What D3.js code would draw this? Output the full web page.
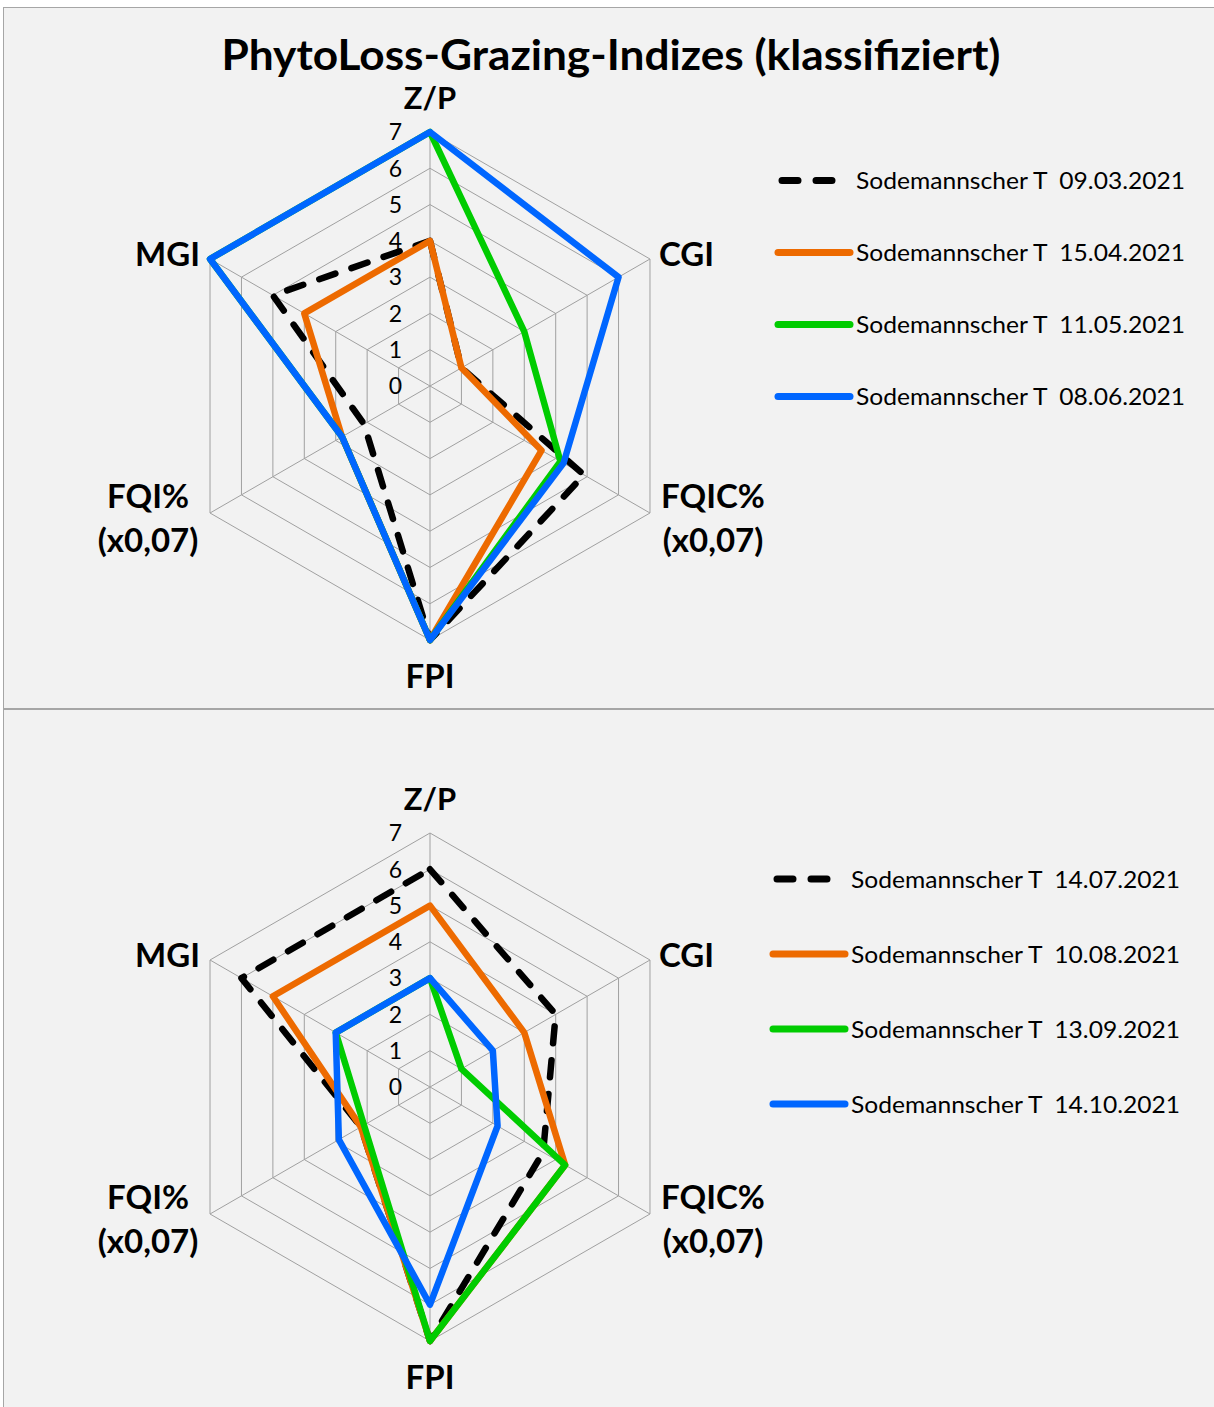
<!DOCTYPE html>
<html>
<head>
<meta charset="utf-8">
<script src="https://cdn.jsdelivr.net/npm/d3@7"></script>
<style>
  html, body { margin: 0; padding: 0; background: #ffffff; }
  svg { display: block; }
  text { font-family: Lato, "Open Sans", "Noto Sans", sans-serif; }
</style>
</head>
<body>
<svg id="chart" width="1214" height="1407"></svg>
<script>
// ---------- data ----------
const title = "PhytoLoss-Grazing-Indizes (klassifiziert)";
const axisLabels = [["Z/P"], ["CGI"], ["FQIC%", "(x0,07)"], ["FPI"], ["FQI%", "(x0,07)"], ["MGI"]];
const tickValues = [0, 1, 2, 3, 4, 5, 6, 7];

const seriesNamesTop = ["Sodemannscher T  09.03.2021", "Sodemannscher T  15.04.2021",
                        "Sodemannscher T  11.05.2021", "Sodemannscher T  08.06.2021"];
const valuesTop1 = [4, 1, 4.9, 7, 2.1, 5];
const valuesTop2 = [4, 1, 3.55, 7, 2.8, 4];
const valuesTop3 = [7, 3, 4.15, 7, 2.8, 7];
const valuesTop4 = [7, 6, 4.25, 7, 2.8, 7];

const seriesNamesBottom = ["Sodemannscher T  14.07.2021", "Sodemannscher T  10.08.2021",
                           "Sodemannscher T  13.09.2021", "Sodemannscher T  14.10.2021"];
const valuesBottom1 = [6, 4, 3.6, 7, 2.2, 6];
const valuesBottom2 = [5, 3, 4.3, 7, 2.2, 5];
const valuesBottom3 = [3, 1, 4.3, 7, 2.1, 3];
const valuesBottom4 = [3, 2, 2.15, 6, 2.9, 3];

// ---------- styles ----------
const colors = ["#000000", "#ED6A00", "#00CC00", "#0066FF"];
const dashes = ["17,17", null, null, null];

const svg = d3.select("#chart");

// panels
svg.append("rect").attr("x", 3.5).attr("y", 7.5).attr("width", 1220).attr("height", 701)
  .attr("fill", "#f2f2f2").attr("stroke", "#a6a6a6").attr("stroke-width", 1);
svg.append("rect").attr("x", 3.5).attr("y", 709.5).attr("width", 1220).attr("height", 710)
  .attr("fill", "#f2f2f2").attr("stroke", "#a6a6a6").attr("stroke-width", 1);

// title
svg.append("text").attr("x", 611).attr("y", 69.5)
  .attr("text-anchor", "middle")
  .attr("font-size", 42).attr("font-weight", 700).attr("fill", "#000")
  .attr("textLength", 779).attr("lengthAdjust", "spacingAndGlyphs")
  .text(title);

const R = 254;
const r = d3.scaleLinear().domain([0, 7]).range([0, R]);
const nAxes = axisLabels.length;
const angle = i => i * 2 * Math.PI / nAxes;

function radar(cx, cy, names, seriesValues, legendX, legendY0, legendStep) {
  const g = svg.append("g").attr("transform", `translate(${cx},${cy})`);

  // rings
  const ringLine = d3.lineRadial().angle((d, i) => angle(i)).radius(d => r(d)).curve(d3.curveLinearClosed);
  tickValues.filter(v => v > 0).forEach(v => {
    g.append("path").attr("d", ringLine(d3.range(nAxes).map(() => v)))
      .attr("fill", "none").attr("stroke", "#a0a0a0").attr("stroke-width", 1);
  });
  // spokes
  d3.range(nAxes).forEach(i => {
    const a = angle(i);
    g.append("line").attr("x1", 0).attr("y1", 0)
      .attr("x2", r(7) * Math.sin(a)).attr("y2", -r(7) * Math.cos(a))
      .attr("stroke", "#a0a0a0").attr("stroke-width", 1);
  });
  // tick labels
  tickValues.forEach(v => {
    g.append("text").attr("x", -28).attr("y", -r(v)).attr("dy", "0.36em")
      .attr("text-anchor", "end").attr("font-size", 23).attr("fill", "#000")
      .text(v);
  });

  // series
  const line = d3.lineRadial().angle((d, i) => angle(i)).radius(d => r(d)).curve(d3.curveLinearClosed);
  seriesValues.forEach((vals, k) => {
    const p = g.append("path").attr("d", line(vals))
      .attr("fill", "none").attr("stroke", colors[k]).attr("stroke-width", 6.5)
      .attr("stroke-linejoin", "round");
    if (dashes[k]) p.attr("stroke-dasharray", dashes[k]).attr("stroke-linecap", "round");
  });

  // axis labels
  const labelPos = [
    {x: 0, y: -277, anchor: "middle", size: 31},
    {x: 229, y: -120, anchor: "start", size: 33},
    {x: 713 - 430, y: 122, anchor: "middle", size: 33},
    {x: 0, y: 302, anchor: "middle", size: 33},
    {x: 148 - 430, y: 122, anchor: "middle", size: 33},
    {x: -230, y: -120, anchor: "end", size: 33}
  ];
  axisLabels.forEach((lines, i) => {
    const t = g.append("text").attr("text-anchor", labelPos[i].anchor)
      .attr("font-size", labelPos[i].size).attr("font-weight", 700).attr("fill", "#000");
    lines.forEach((s, j) => {
      t.append("tspan").attr("x", labelPos[i].x).attr("y", labelPos[i].y + j * 44).text(s);
    });
  });

  // legend
  names.forEach((name, k) => {
    const y = legendY0 + k * legendStep;
    const l = svg.append("line").attr("x1", legendX).attr("x2", legendX + 72)
      .attr("y1", y).attr("y2", y)
      .attr("stroke", colors[k]).attr("stroke-width", 7).attr("stroke-linecap", "round");
    if (dashes[k]) l.attr("x1", legendX + 4).attr("x2", legendX + 68).attr("stroke-dasharray", "16,18");
    svg.append("text").attr("x", legendX + 78).attr("y", y).attr("dy", "0.36em")
      .attr("font-size", 24).attr("fill", "#000")
      .style("white-space", "pre")
      .attr("textLength", 329).attr("lengthAdjust", "spacingAndGlyphs")
      .text(name);
  });
}

radar(430, 386, seriesNamesTop, [valuesTop1, valuesTop2, valuesTop3, valuesTop4], 778, 180.5, 72);
radar(430, 1087, seriesNamesBottom, [valuesBottom1, valuesBottom2, valuesBottom3, valuesBottom4], 773, 879, 75);
</script>
</body>
</html>
